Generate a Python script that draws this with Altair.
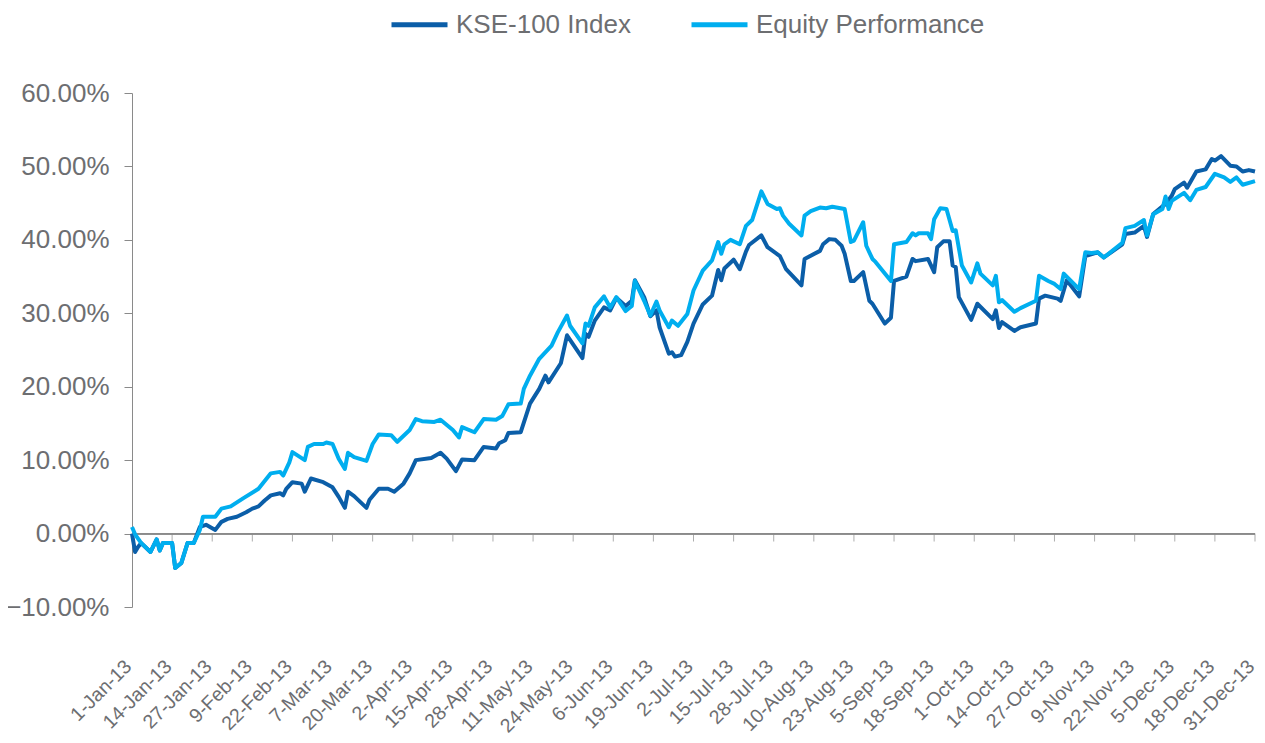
import altair as alt
import pandas as pd

# ---- data (day offset from 1-Jan-2013, value in %) ----
KSE_DAYS = [0, 1, 2, 3, 6, 8, 9, 10, 13, 14, 16, 18, 20, 22, 24, 27, 29, 31, 34, 37, 39, 41, 43, 45, 48, 49, 50, 52,
            55, 56, 58, 62, 65, 67, 69, 70, 72, 76, 77, 80, 83, 85, 88, 90, 92, 97, 100, 102, 105, 107, 111, 114, 118,
            119, 121, 122, 126, 129, 132, 134, 135, 139, 141, 146, 147, 148, 150, 153, 155, 157, 160, 162, 163, 166,
            168, 170, 171, 174, 175, 176, 178, 180, 182, 185, 188, 190, 191, 192, 195, 197, 199, 200, 204, 206, 210,
            212, 217, 218, 223, 224, 226, 228, 230, 231, 233, 234, 237, 239, 240, 244, 246, 247, 251, 253, 254, 258,
            260, 261, 263, 265, 266, 267, 268, 272, 274, 279, 280, 281, 282, 286, 288, 293, 294, 296, 300, 301, 303,
            307, 309, 313, 315, 321, 322, 325, 328, 329, 331, 335, 337, 338, 341, 342, 345, 348, 350, 351, 353, 356,
            358, 360, 362, 364]
KSE_VALUES = [0.0, -2.5, -1.8, -1.3, -2.5, -0.8, -2.3, -1.3, -1.3, -4.7, -4.0, -1.3, -1.3, 0.9, 1.2, 0.5, 1.6, 2.0,
              2.3, 2.9, 3.4, 3.7, 4.5, 5.2, 5.5, 5.2, 6.1, 7.0, 6.8, 5.7, 7.5, 7.0, 6.3, 5.0, 3.5, 5.7, 5.1, 3.5, 4.6,
              6.1, 6.1, 5.7, 6.8, 8.2, 10.0, 10.3, 11.0, 10.2, 8.5, 10.1, 10.0, 11.8, 11.6, 12.3, 12.7, 13.7, 13.8,
              17.7, 19.7, 21.5, 20.6, 23.2, 27.0, 23.9, 27.2, 26.8, 29.0, 30.8, 30.4, 32.1, 31.0, 31.7, 34.5, 32.2,
              29.6, 30.4, 28.1, 24.5, 24.7, 24.1, 24.3, 26.1, 28.6, 31.2, 32.4, 35.9, 34.5, 36.1, 37.3, 36.0, 38.4,
              39.3, 40.6, 39.0, 37.8, 36.0, 33.8, 37.4, 38.5, 39.4, 40.1, 40.0, 39.2, 38.1, 34.4, 34.4, 35.6, 31.7,
              31.3, 28.6, 29.4, 34.4, 35.0, 37.4, 37.1, 37.4, 35.6, 39.0, 39.8, 39.8, 36.5, 36.3, 32.2, 29.1, 31.3,
              29.2, 30.4, 28.0, 28.8, 27.6, 28.1, 28.6, 32.0, 32.4, 32.0, 31.7, 34.5, 32.3, 37.8, 38.3, 37.6, 39.4,
              40.8, 41.0, 41.9, 40.4, 43.5, 44.9, 46.0, 46.9, 47.8, 47.1, 49.3, 49.6, 51.0, 50.8, 51.4, 50.1, 50.0,
              49.3, 49.5, 49.3]

EQ_DAYS = [0, 1, 3, 6, 8, 9, 10, 13, 14, 16, 18, 20, 22, 23, 27, 29, 32, 36, 41, 45, 48, 49, 51, 52, 56, 57, 59, 62,
           63, 65, 67, 69, 70, 72, 76, 78, 80, 84, 86, 90, 92, 94, 98, 100, 104, 106, 107, 111, 114, 118, 120, 122,
           126, 127, 129, 132, 136, 138, 141, 142, 146, 147, 148, 150, 153, 155, 157, 160, 162, 163, 166, 168, 170,
           171, 174, 175, 177, 180, 182, 185, 188, 190, 191, 192, 194, 197, 199, 201, 204, 206, 209, 210, 211, 213,
           217, 218, 220, 223, 225, 227, 231, 233, 234, 237, 238, 240, 241, 246, 247, 251, 253, 254, 255, 258, 259,
           260, 262, 264, 266, 267, 269, 272, 274, 275, 279, 280, 281, 282, 286, 288, 293, 294, 297, 299, 301, 302,
           307, 309, 311, 313, 315, 321, 322, 325, 328, 329, 331, 334, 335, 336, 337, 341, 343, 345, 348, 351, 354,
           356, 358, 360, 364]
EQ_VALUES = [0.9, -0.1, -1.3, -2.5, -0.8, -2.3, -1.3, -1.3, -4.7, -4.0, -1.3, -1.3, 0.5, 2.3, 2.3, 3.4, 3.7, 4.8,
             6.1, 8.2, 8.4, 7.9, 9.7, 11.1, 10.0, 11.8, 12.2, 12.2, 12.4, 12.2, 10.2, 8.8, 11.0, 10.4, 9.9, 12.2,
             13.5, 13.4, 12.5, 14.1, 15.6, 15.3, 15.2, 15.5, 14.1, 13.1, 14.5, 13.8, 15.6, 15.5, 16.0, 17.6, 17.7,
             19.7, 21.5, 23.8, 25.6, 27.4, 29.7, 28.3, 25.9, 28.6, 28.3, 30.8, 32.3, 30.8, 32.2, 30.3, 31.0, 34.4,
             31.7, 29.7, 31.6, 30.4, 28.1, 29.0, 28.3, 29.9, 33.1, 35.8, 37.2, 39.7, 38.1, 39.4, 40.0, 39.4, 41.9,
             42.7, 46.6, 44.9, 44.2, 44.3, 43.3, 42.2, 40.6, 43.3, 43.9, 44.4, 44.3, 44.5, 44.2, 39.7, 39.9, 42.4,
             39.2, 37.4, 37.0, 34.4, 39.4, 39.7, 40.9, 40.6, 40.9, 40.9, 40.1, 42.8, 44.3, 44.2, 41.2, 41.3, 36.5,
             34.2, 36.8, 35.4, 33.8, 35.1, 31.5, 31.8, 30.2, 30.7, 31.7, 35.1, 34.4, 34.0, 33.3, 35.4, 33.3, 38.3,
             38.2, 38.3, 37.6, 39.6, 41.6, 41.9, 42.7, 40.6, 43.5, 44.2, 45.9, 44.2, 45.3, 46.4, 45.4, 46.8, 47.2,
             49.0, 48.5, 47.9, 48.5, 47.5, 48.0]

SERIES = ["KSE-100 Index", "Equity Performance"]
COLORS = ["#0b5ea8", "#00aeef"]

X_TICK_LABELS = ["1-Jan-13", "14-Jan-13", "27-Jan-13", "9-Feb-13", "22-Feb-13", "7-Mar-13", "20-Mar-13",
                 "2-Apr-13", "15-Apr-13", "28-Apr-13", "11-May-13", "24-May-13", "6-Jun-13", "19-Jun-13",
                 "2-Jul-13", "15-Jul-13", "28-Jul-13", "10-Aug-13", "23-Aug-13", "5-Sep-13", "18-Sep-13",
                 "1-Oct-13", "14-Oct-13", "27-Oct-13", "9-Nov-13", "22-Nov-13", "5-Dec-13", "18-Dec-13",
                 "31-Dec-13"]
Y_TICKS = [-10, 0, 10, 20, 30, 40, 50, 60]

# ---- build tables ----
start = pd.Timestamp("2013-01-01")
rows = []
for name, days, vals in [(SERIES[0], KSE_DAYS, KSE_VALUES), (SERIES[1], EQ_DAYS, EQ_VALUES)]:
    for d, v in zip(days, vals):
        rows.append({"series": name, "date": (start + pd.Timedelta(days=d)).strftime("%Y-%m-%dT%H:%M:%S"),
                     "value": v})
df = pd.DataFrame(rows)

tick_ts = [pd.to_datetime(t, format="%d-%b-%y") for t in X_TICK_LABELS]
tick_df = pd.DataFrame({"date": [t.strftime("%Y-%m-%dT%H:%M:%S") for t in tick_ts]})
tick_vals = [alt.DateTime(year=t.year, month=t.month, date=t.day) for t in tick_ts]
x_domain = [tick_vals[0], tick_vals[-1]]

FONT = "Liberation Sans"
TEXT = "#6d6e71"
AXIS = "#8a8a8a"

x_enc = alt.X("date:T",
              scale=alt.Scale(domain=x_domain, nice=False),
              axis=alt.Axis(values=tick_vals, format="%-d-%b-%y", labelAngle=-45, labelAlign="right",
                            labelBaseline="middle", labelPadding=56, labelOffset=-4, domain=False,
                            ticks=False, grid=False, title=None, labelFontSize=19.5, labelFont=FONT,
                            labelColor=TEXT, labelOverlap=False, labelFlush=False))

lines = alt.Chart(df).mark_line(strokeWidth=4, strokeJoin="round").encode(
    x=x_enc,
    y=alt.Y("value:Q",
            scale=alt.Scale(domain=[-10, 60], nice=False, zero=False),
            axis=alt.Axis(values=Y_TICKS, labelExpr="format(datum.value, '.2f') + '%'", title=None,
                          grid=False, domainColor=AXIS, tickColor=AXIS, tickSize=8, labelFontSize=26,
                          labelFont=FONT, labelColor=TEXT, labelPadding=15)),
    color=alt.Color("series:N", sort=SERIES,
                    scale=alt.Scale(domain=SERIES, range=COLORS),
                    legend=alt.Legend(orient="none", legendX=257, legendY=-99, direction="horizontal",
                                      title=None, symbolType="stroke", symbolSize=3136,
                                      symbolStrokeWidth=5, labelFontSize=26, labelFont=FONT,
                                      labelColor=TEXT, labelOffset=6, columnPadding=50, labelLimit=400)),
    detail="series:N",
)

zero_rule = alt.Chart(df).mark_rule(color=AXIS, strokeWidth=1).encode(y=alt.datum(0))

ticks = alt.Chart(tick_df).mark_tick(orient="vertical", size=8, thickness=1, color=AXIS, yOffset=4).encode(
    x=alt.X("date:T"),
    y=alt.datum(0),
)

chart = alt.layer(zero_rule, ticks, lines).properties(
    width=1123, height=514,
    padding={"left": 124, "top": 85, "right": 2, "bottom": 128},
    autosize=alt.AutoSizeParams(type="none"),
    background="white",
).configure_view(stroke=None)

chart.save("out.html", embed_options={"renderer": "svg", "actions": False})
